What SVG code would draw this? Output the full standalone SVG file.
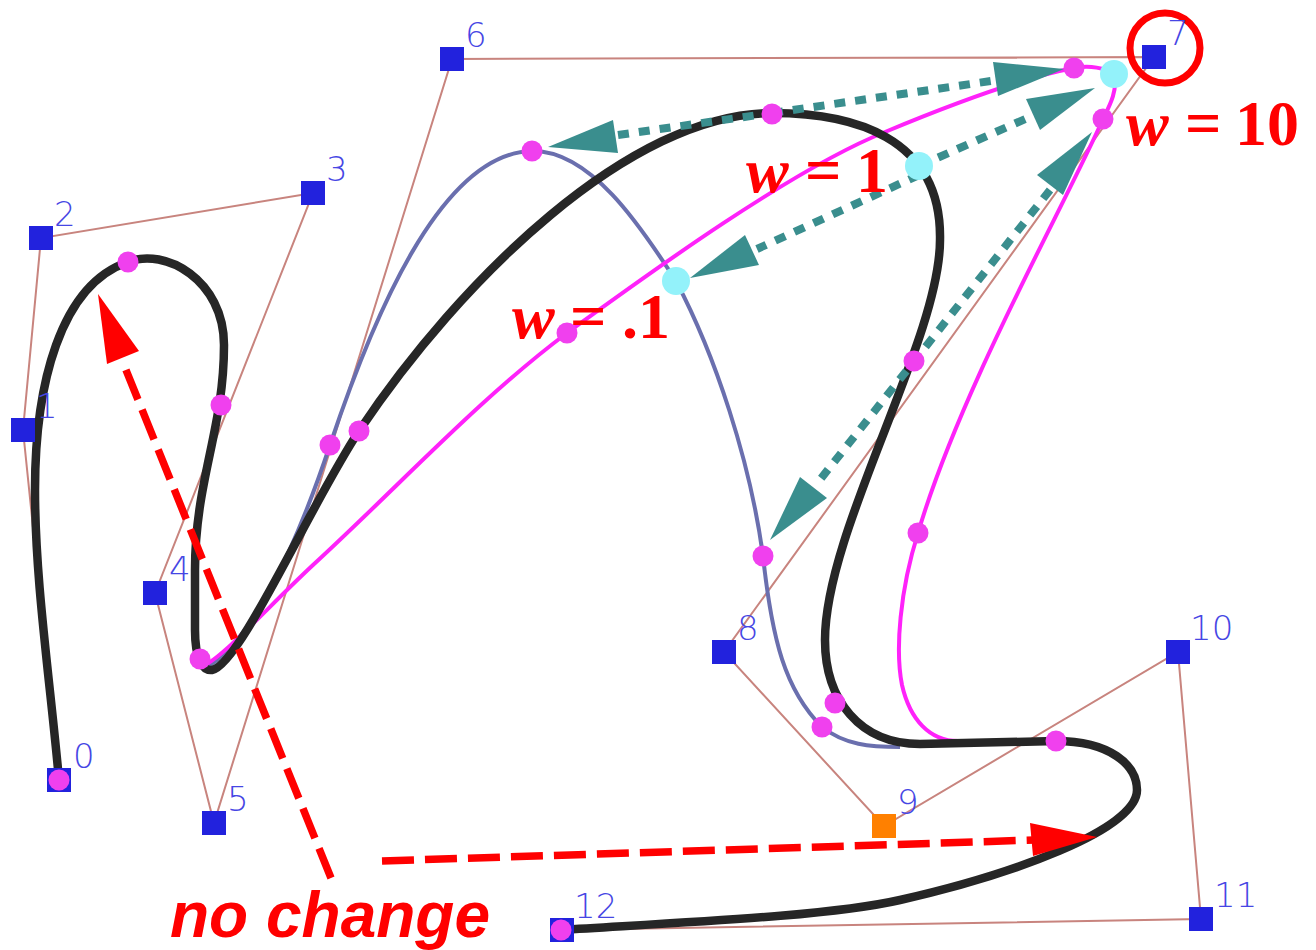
<svg xmlns="http://www.w3.org/2000/svg" width="1316" height="950" viewBox="0 0 1316 950">
<defs>
<style>
.poly{fill:none;stroke:#c8847e;stroke-width:2}
.grey{fill:none;stroke:#6a6fae;stroke-width:4}
.mag{fill:none;stroke:#ff22fa;stroke-width:4}
.blk{fill:none;stroke:#262626;stroke-width:8.5;stroke-linejoin:round}
.teal{fill:none;stroke:#3a8e8e;stroke-width:8;stroke-dasharray:11 10}
.thead{fill:#3a8e8e}
.red{fill:none;stroke:#ff0000;stroke-width:7.5;stroke-dasharray:32 11}
.rhead{fill:#ff0000}
.cp{fill:#2222dd}
.dot{fill:#f040ee}
.cy{fill:#93f2fa}
.lab{font-family:"DejaVu Sans","Liberation Sans",sans-serif;font-weight:200;font-size:34px;fill:#4646e4}
.ser{font-family:"Liberation Serif",serif;font-weight:bold;font-size:64px;fill:#ff0000}
.ser .i{font-style:italic}
.nc{font-family:"Liberation Sans",sans-serif;font-weight:bold;font-style:italic;font-size:64px;fill:#ff0000}
</style>
</defs>
<rect width="1316" height="950" fill="#ffffff"/>
<g id="connectors">
<polyline class="poly" points="59,780 23,430 41,238 313,193 155,593 214,823 452,59 1154,57 724,652 884,826 1178,652 1201,919 561,930"/>
<path class="grey" d="M205,668 C250,645 295,550 330,445 C372,320 440,153 532,151 C590,150 640,225 676,281 C715,355 750,460 763,556 C772,640 785,690 822,727 C845,745 870,747 900,747"/>
<path class="mag" d="M205,665 C225,655 270,605 313,565 C400,485 480,398 567,333 C640,280 790,170 885,132 C950,105 1020,78 1074,68 C1090,65 1105,68 1114,74 C1118,90 1110,105 1103,119 C1065,205 960,390 918,533 C900,590 895,650 902,685 C910,720 930,741 958,741"/>
<path class="blk" d="M59,780 C50,680 35,580 35,490 C35,385 60,285 128,262 C165,247 224,280 224,345 C224,430 195,480 195,570 L195,630 C195,660 203,671 212,670 C240,665 310,505 359,431 C460,280 630,113 772,113 C850,113 942,135 940,240 C940,340 825,530 825,640 C825,700 860,744 920,744 L1056,741 C1110,741 1137,765 1137,790 C1137,830 1010,875 900,900 C830,916 690,922 561,930"/>
<line class="teal" x1="618" y1="135" x2="772" y2="113"/>
<line class="teal" x1="772" y1="113" x2="998" y2="80"/>
<polygon class="thead" points="548,147 613,120 618,153"/>
<polygon class="thead" points="1064,69 993,62 998,96"/>
<line class="teal" x1="919" y1="166" x2="1032" y2="116"/>
<polygon class="thead" points="1095,88 1026,99 1040,130"/>
<line class="teal" x1="919" y1="175" x2="757" y2="249"/>
<polygon class="thead" points="690,278 745,235 759,265"/>
<line class="teal" x1="1050" y1="190" x2="819" y2="481"/>
<polygon class="thead" points="1092,132 1037,175 1063,195"/>
<polygon class="thead" points="770,540 800,477 827,498"/>
<line class="red" x1="331" y1="878" x2="122" y2="360"/>
<polygon class="rhead" points="98,294 107,364 139,351"/>
<line class="red" x1="382" y1="861" x2="1035" y2="840"/>
<polygon class="rhead" points="1097,837 1030,823 1033,856"/>
<circle cx="1165" cy="48" r="35" fill="none" stroke="#ff0000" stroke-width="7"/>
</g>
<g id="node-0"><rect class="cp" x="47" y="768" width="24" height="24"/><text class="lab" x="73" y="768">0</text></g>
<g id="node-1"><rect class="cp" x="11" y="418" width="24" height="24"/><text class="lab" x="36" y="418">1</text></g>
<g id="node-2"><rect class="cp" x="29" y="226" width="24" height="24"/><text class="lab" x="54" y="226">2</text></g>
<g id="node-3"><rect class="cp" x="301" y="181" width="24" height="24"/><text class="lab" x="326" y="181">3</text></g>
<g id="node-4"><rect class="cp" x="143" y="581" width="24" height="24"/><text class="lab" x="169" y="581">4</text></g>
<g id="node-5"><rect class="cp" x="202" y="811" width="24" height="24"/><text class="lab" x="227" y="811">5</text></g>
<g id="node-6"><rect class="cp" x="440" y="47" width="24" height="24"/><text class="lab" x="465" y="47">6</text></g>
<g id="node-7"><rect class="cp" x="1142" y="45" width="24" height="24"/><text class="lab" x="1167" y="45">7</text></g>
<g id="node-8"><rect class="cp" x="712" y="640" width="24" height="24"/><text class="lab" x="737" y="640">8</text></g>
<g id="node-9"><rect x="872" y="814" width="24" height="24" fill="#ff8000"/><text class="lab" x="897" y="814">9</text></g>
<g id="node-10"><rect class="cp" x="1166" y="640" width="24" height="24"/><text class="lab" x="1190" y="640">10</text></g>
<g id="node-11"><rect class="cp" x="1189" y="907" width="24" height="24"/><text class="lab" x="1214" y="907">11</text></g>
<g id="node-12"><rect class="cp" x="550" y="918" width="24" height="24"/><text class="lab" x="574" y="918">12</text></g>
<g id="knots">
<circle class="dot" cx="59" cy="780" r="10.5"/><circle class="dot" cx="128" cy="262" r="10.5"/><circle class="dot" cx="221" cy="405" r="10.5"/><circle class="dot" cx="200" cy="659" r="10.5"/><circle class="dot" cx="330" cy="445" r="10.5"/><circle class="dot" cx="359" cy="431" r="10.5"/><circle class="dot" cx="532" cy="151" r="10.5"/><circle class="dot" cx="567" cy="333" r="10.5"/><circle class="dot" cx="772" cy="114" r="10.5"/><circle class="dot" cx="1074" cy="68" r="10.5"/><circle class="dot" cx="1103" cy="119" r="10.5"/><circle class="dot" cx="914" cy="361" r="10.5"/><circle class="dot" cx="763" cy="556" r="10.5"/><circle class="dot" cx="918" cy="533" r="10.5"/><circle class="dot" cx="835" cy="703" r="10.5"/><circle class="dot" cx="822" cy="727" r="10.5"/><circle class="dot" cx="1056" cy="741" r="10.5"/><circle class="dot" cx="561" cy="930" r="10.5"/>
<circle class="cy" cx="919" cy="166" r="14"/><circle class="cy" cx="676" cy="281" r="14"/><circle class="cy" cx="1114" cy="74" r="14"/>
</g>
<g id="labels">
<text class="ser" y="145"><tspan class="i" x="1126">w</tspan><tspan x="1185">=</tspan><tspan x="1235">10</tspan></text>
<text class="ser" y="192"><tspan class="i" x="746">w</tspan><tspan x="805">=</tspan><tspan x="856">1</tspan></text>
<text class="ser" y="338"><tspan class="i" x="512">w</tspan><tspan x="570">=</tspan><tspan x="622">.1</tspan></text>
<text class="nc" x="170" y="937">no change</text>
</g>
</svg>
